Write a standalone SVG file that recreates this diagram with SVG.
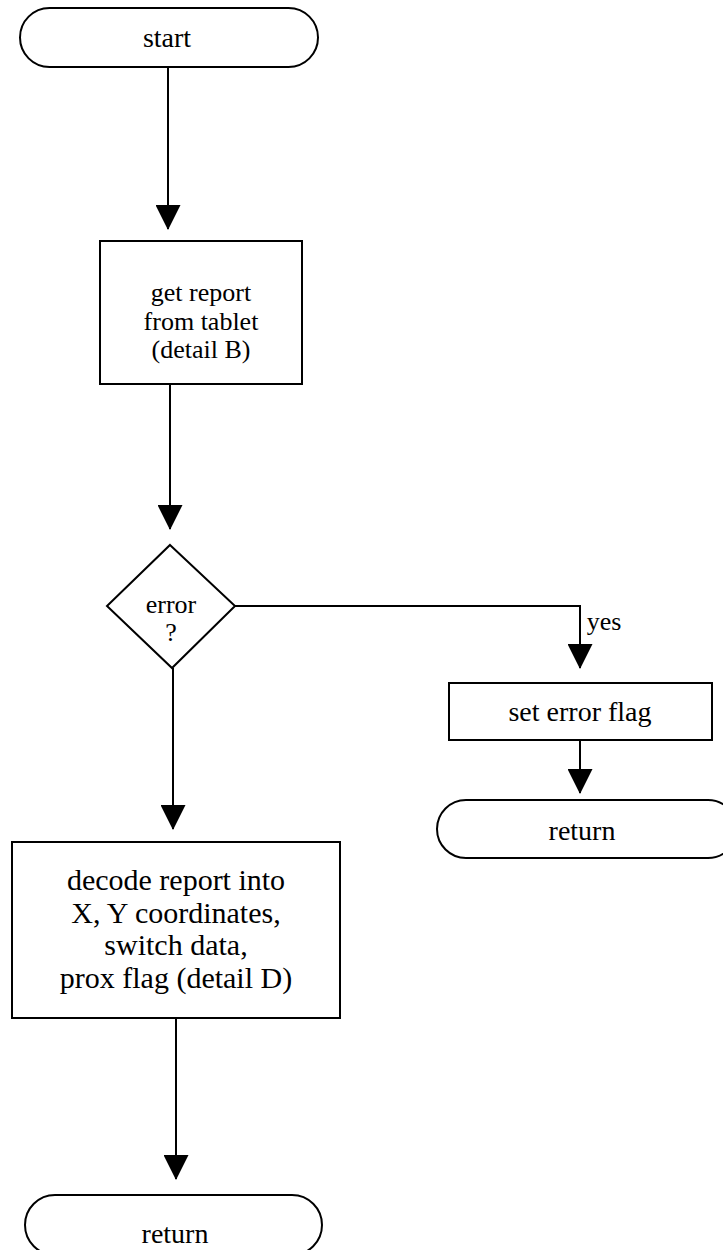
<svg xmlns="http://www.w3.org/2000/svg" width="723" height="1250" viewBox="0 0 723 1250">
<style>
.s{fill:#fff;stroke:#000;stroke-width:2}
.c{fill:none;stroke:#000;stroke-width:2;marker-end:url(#ah)}
text{font-family:"Liberation Serif","Times New Roman",serif;font-size:28px;fill:#000;text-anchor:middle}
.m{font-size:26px}
.l{font-size:30px}
</style>
<defs>
<marker id="ah" markerWidth="25" markerHeight="25" refX="24" refY="12.5" orient="auto" markerUnits="userSpaceOnUse" viewBox="0 0 25 25">
<path d="M0,0 L25,12.5 L0,25 Z" fill="#000"/>
</marker>
</defs>
<rect width="723" height="1250" fill="#fff"/>
<g id="connectors">
<path class="c" d="M168,67 V229"/>
<path class="c" d="M170,384 V529"/>
<path class="c" d="M173,668 V829"/>
<path class="c" d="M176,1018 V1179"/>
<path class="c" d="M235,606 H580 V668"/>
<path class="c" d="M580,740 V793"/>
<text class="m" x="604" y="630">yes</text>
</g>
<g id="start">
<rect class="s" x="20" y="8" width="298" height="59" rx="29.5"/>
<text x="167" y="47">start</text>
</g>
<g id="get-report">
<rect class="s" x="100" y="241" width="202" height="143"/>
<text class="m" x="201" y="301">get report</text>
<text class="m" x="201" y="330">from tablet</text>
<text class="m" x="201" y="358">(detail B)</text>
</g>
<g id="error">
<path class="s" d="M170,545 L235,606 L172,668 L107,606 Z"/>
<text class="m" x="171" y="613">error</text>
<text class="m" x="171" y="641">?</text>
</g>
<g id="set-error-flag">
<rect class="s" x="449" y="683" width="263" height="57"/>
<text x="580" y="721">set error flag</text>
</g>
<g id="return-right">
<rect class="s" x="437" y="800" width="300" height="58" rx="29"/>
<text x="582" y="840">return</text>
</g>
<g id="decode">
<rect class="s" x="12" y="842" width="328" height="176"/>
<text class="l" x="176" y="890">decode report into</text>
<text class="l" x="176" y="923">X, Y coordinates,</text>
<text class="l" x="176" y="955">switch data,</text>
<text class="l" x="176" y="988">prox flag (detail D)</text>
</g>
<g id="return-bottom">
<rect class="s" x="25" y="1195" width="297" height="60" rx="30"/>
<text x="175" y="1243">return</text>
</g>
</svg>
